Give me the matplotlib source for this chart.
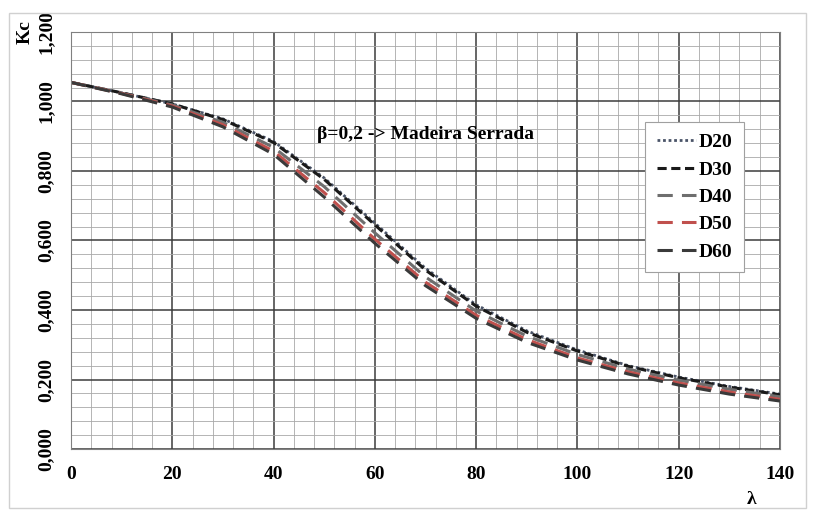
import matplotlib
matplotlib.use("Agg")
import matplotlib.pyplot as plt
from matplotlib.patches import Rectangle
from matplotlib.ticker import MultipleLocator, FuncFormatter

lam = [0, 10, 20, 30, 40, 50, 60, 70, 80, 90, 100, 110, 120, 130, 140]
D20 = [1.055, 1.025, 0.993, 0.950, 0.885, 0.780, 0.650, 0.520, 0.415, 0.340, 0.285, 0.240, 0.207, 0.180, 0.158]
D30 = [1.055, 1.025, 0.993, 0.948, 0.882, 0.776, 0.645, 0.515, 0.411, 0.336, 0.282, 0.238, 0.205, 0.178, 0.156]
D40 = [1.055, 1.024, 0.990, 0.940, 0.868, 0.755, 0.622, 0.495, 0.397, 0.325, 0.272, 0.230, 0.198, 0.172, 0.150]
D50 = [1.055, 1.023, 0.987, 0.933, 0.857, 0.738, 0.604, 0.480, 0.385, 0.315, 0.262, 0.222, 0.190, 0.164, 0.143]
D60 = [1.055, 1.022, 0.984, 0.927, 0.848, 0.725, 0.592, 0.470, 0.376, 0.307, 0.256, 0.216, 0.184, 0.158, 0.138]
names = ["D20", "D30", "D40", "D50", "D60"]
series = [D20, D30, D40, D50, D60]

plt.rcParams['font.family'] = ['Liberation Serif', 'DejaVu Serif']
plt.rcParams['font.weight'] = 'bold'

fig = plt.figure(figsize=(8.14, 5.13), dpi=100)
fig.patches.append(Rectangle((9/814, 5/513), 797/814, 495/513, transform=fig.transFigure,
                             fill=False, edgecolor='#d0d0d0', linewidth=1))
ax = fig.add_axes([71/814, 1-449/513, 709/814, 417/513])

styles = [
    dict(color='#4a5468', linestyle=(0, (1, 1)), linewidth=2.0),
    dict(color='#1a1a1a', linestyle=(0, (3, 1.5)), linewidth=2.2),
    dict(color='#6e6e6e', linestyle=(0, (5, 3)), linewidth=2.2),
    dict(color='#c0504d', linestyle=(0, (5, 3)), linewidth=2.2),
    dict(color='#3a3a3a', linestyle=(0, (5, 3)), linewidth=2.2),
]
for nm, s, st in zip(names, series, styles):
    ax.plot(lam, s, label=nm, **st)

ax.set_xlim(0, 140)
ax.set_ylim(0, 1.2)
ax.xaxis.set_major_locator(MultipleLocator(20))
ax.xaxis.set_minor_locator(MultipleLocator(4))
ax.yaxis.set_major_locator(MultipleLocator(0.2))
ax.yaxis.set_minor_locator(MultipleLocator(0.04))
ax.grid(which='major', color='#3c3c3c', linewidth=1.1)
ax.grid(which='minor', color='#a8a8a8', linewidth=0.6)
ax.set_axisbelow(True)
for sp in ax.spines.values():
    sp.set_color('#808080')
ax.tick_params(which='both', length=0)
ax.tick_params(axis='x', pad=12, labelsize=14)
ax.tick_params(axis='y', pad=12, labelsize=14)
ax.yaxis.set_major_formatter(FuncFormatter(lambda v, p: f"{v:.3f}".replace('.', ',')))
for lab in ax.get_yticklabels():
    lab.set_rotation(90)
    lab.set_va('center')
for lab in ax.get_xticklabels() + ax.get_yticklabels():
    lab.set_fontweight('bold')

ax.text(48.5, 0.905, "β=0,2 -> Madeira Serrada", fontsize=14, fontweight='bold',
        ha='left', va='center')
fig.text(25/814, 1-32/513, "Kc", rotation=90, fontsize=14, fontweight='bold',
         ha='center', va='center')
fig.text(752/814, 1-500/513, "λ", fontsize=14, fontweight='bold', ha='center', va='center')

leg = ax.legend(loc='upper left', bbox_to_anchor=((645-71)/709, 1-(122-32)/417),
                handlelength=2.0, handletextpad=0.15, labelspacing=0.5,
                fancybox=False, framealpha=1, edgecolor='#a0a0a0', borderpad=0.6,
                borderaxespad=0, prop={'weight': 'bold', 'size': 14})
leg.get_frame().set_linewidth(0.8)

fig.savefig("out.png", dpi=100)
